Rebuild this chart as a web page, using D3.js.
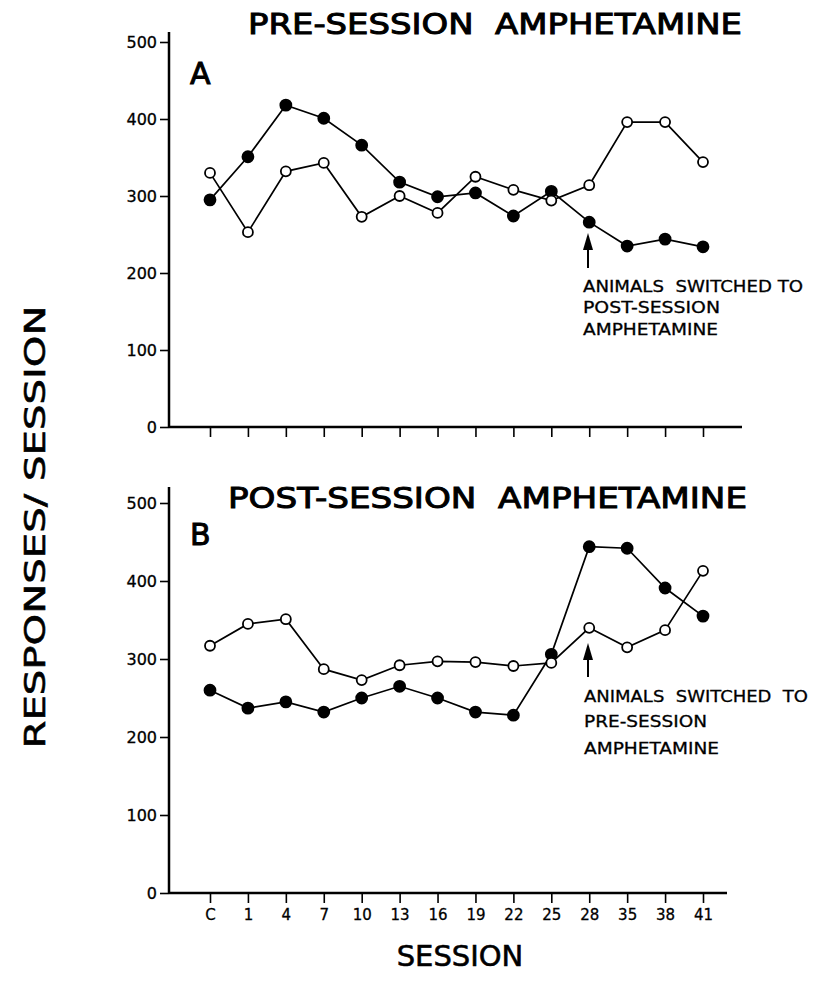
<!DOCTYPE html>
<html>
<head>
<meta charset="utf-8">
<script src="https://cdn.jsdelivr.net/npm/d3@7"></script>
<style>
  body { margin: 0; background: #fff; }
  svg text { font-family: "DejaVu Sans", sans-serif; fill: #000; white-space: pre; }
</style>
</head>
<body>
<div id="chart"></div>
<script>

var sessions = ["C", "1", "4", "7", "10", "13", "16", "19", "22", "25", "28", "35", "38", "41"];
var yTicks = [0, 100, 200, 300, 400, 500];

// panel A: pre-session amphetamine
var preFilled = [295, 351, 418, 401, 366, 318, 299, 304, 274, 306, 266, 235, 244, 234];
var preOpen   = [330, 253, 332, 343, 273, 300, 278, 325, 308, 294, 314, 396, 396, 344];

// panel B: post-session amphetamine
var postFilled = [260, 237, 245, 232, 250, 265, 250, 232, 228, 306, 444, 442, 391, 355];
var postOpen   = [317, 345, 351, 287, 273, 292, 297, 296, 291, 295, 340, 315, 337, 413];

var width = 818,
  height = 996;

var svg = d3.select("#chart")
  .append("svg")
  .attr("width", width)
  .attr("height", height);

var x = d3.scalePoint()
  .domain(sessions)
  .range([210, 703]);

function panelChart() {

  var top = 42,
    bottom = 427,
    axisTop = 32,
    axisRight = 742,
    left = 169,
    title = "",
    letter = "A",
    titleBox = [248, 742, 34],
    letterY = 84,
    series = [],
    showLabels = false,
    note = [],
    noteX = 583,
    noteY = [292, 313, 335],
    arrow = [588, 233, 268];

  function chart(g) {

    var y = d3.scaleLinear()
      .domain([0, 500])
      .range([bottom, top]);

    // axes lines
    g.append("line")
      .attr("x1", left).attr("x2", left)
      .attr("y1", axisTop).attr("y2", bottom)
      .attr("stroke", "#000").attr("stroke-width", 2.5);

    g.append("line")
      .attr("x1", left).attr("x2", axisRight)
      .attr("y1", bottom).attr("y2", bottom)
      .attr("stroke", "#000").attr("stroke-width", 2.5);

    var yAxis = g.append("g")
      .attr("transform", "translate(" + left + ",0)")
      .call(d3.axisLeft(y).tickValues(yTicks).tickSize(9).tickPadding(3));
    yAxis.select(".domain").remove();
    yAxis.selectAll("line").attr("stroke-width", 1.6);
    yAxis.selectAll("text")
      .attr("font-size", "16px")
      .attr("fill", "#000")
      .attr("stroke", "#000")
      .attr("stroke-width", 0.3);

    var xAxis = g.append("g")
      .attr("transform", "translate(0," + bottom + ")")
      .call(d3.axisBottom(x).tickSize(10).tickPadding(6));
    xAxis.select(".domain").remove();
    xAxis.selectAll("line").attr("stroke-width", 1.6);
    xAxis.selectAll("text")
      .attr("font-size", "15px")
      .attr("fill", "#000")
      .attr("stroke", "#000")
      .attr("stroke-width", 0.3)
      .style("display", showLabels ? null : "none");

    // title and panel letter
    g.append("text")
      .attr("x", titleBox[0])
      .attr("y", titleBox[2])
      .attr("font-size", "29px")
      .attr("stroke", "#000")
      .attr("stroke-width", 1)
      .attr("textLength", titleBox[1] - titleBox[0])
      .attr("lengthAdjust", "spacingAndGlyphs")
      .text(title);

    g.append("text")
      .attr("x", 190)
      .attr("y", letterY)
      .attr("font-size", "30px")
      .attr("stroke", "#000")
      .attr("stroke-width", 1)
      .text(letter);

    var line = d3.line()
      .x(function (d, i) { return x(sessions[i]); })
      .y(function (d) { return y(d); });

    series.forEach(function (s) {
      g.append("path")
        .datum(s.values)
        .attr("fill", "none")
        .attr("stroke", "#000")
        .attr("stroke-width", 1.7)
        .attr("d", line);
    });

    series.forEach(function (s) {
      g.selectAll(null)
        .data(s.values)
        .enter()
        .append("circle")
        .attr("cx", function (d, i) { return x(sessions[i]); })
        .attr("cy", function (d) { return y(d); })
        .attr("r", s.filled ? 5.5 : 5)
        .attr("fill", s.filled ? "#000" : "#fff")
        .attr("stroke", "#000")
        .attr("stroke-width", 1.8);
    });

    // arrow and note
    g.append("line")
      .attr("x1", arrow[0]).attr("x2", arrow[0])
      .attr("y1", arrow[1] + 10).attr("y2", arrow[2])
      .attr("stroke", "#000").attr("stroke-width", 2);

    g.append("path")
      .attr("d", "M" + arrow[0] + "," + arrow[1] + "L" + (arrow[0] - 5) + "," + (arrow[1] + 17) +
        "L" + (arrow[0] + 5) + "," + (arrow[1] + 17) + "Z")
      .attr("fill", "#000");

    g.selectAll(null)
      .data(note)
      .enter()
      .append("text")
      .attr("x", noteX)
      .attr("y", function (d, i) { return noteY[i]; })
      .attr("font-size", "16px")
      .attr("stroke", "#000")
      .attr("stroke-width", 0.3)
      .attr("textLength", function (d) { return d.w; })
      .attr("lengthAdjust", "spacingAndGlyphs")
      .text(function (d) { return d.t; });
  }

  chart.top = function (_) { if (!arguments.length) return top; top = _; return chart; };
  chart.bottom = function (_) { if (!arguments.length) return bottom; bottom = _; return chart; };
  chart.axisTop = function (_) { if (!arguments.length) return axisTop; axisTop = _; return chart; };
  chart.axisRight = function (_) { if (!arguments.length) return axisRight; axisRight = _; return chart; };
  chart.title = function (_) { if (!arguments.length) return title; title = _; return chart; };
  chart.titleBox = function (_) { if (!arguments.length) return titleBox; titleBox = _; return chart; };
  chart.letter = function (_) { if (!arguments.length) return letter; letter = _; return chart; };
  chart.letterY = function (_) { if (!arguments.length) return letterY; letterY = _; return chart; };
  chart.series = function (_) { if (!arguments.length) return series; series = _; return chart; };
  chart.showLabels = function (_) { if (!arguments.length) return showLabels; showLabels = _; return chart; };
  chart.note = function (_) { if (!arguments.length) return note; note = _; return chart; };
  chart.noteX = function (_) { if (!arguments.length) return noteX; noteX = _; return chart; };
  chart.noteY = function (_) { if (!arguments.length) return noteY; noteY = _; return chart; };
  chart.arrow = function (_) { if (!arguments.length) return arrow; arrow = _; return chart; };

  return chart;
}

var panelA = panelChart()
  .title("PRE-SESSION  AMPHETAMINE")
  .titleBox([248, 742, 34])
  .letter("A")
  .letterY(84)
  .series([{values: preFilled, filled: true}, {values: preOpen, filled: false}])
  .note([{t: "ANIMALS  SWITCHED TO", w: 220}, {t: "POST-SESSION", w: 137}, {t: "AMPHETAMINE", w: 135}])
  .noteX(583)
  .noteY([292, 313, 335])
  .arrow([588, 233, 268]);

var panelB = panelChart()
  .top(503)
  .bottom(893)
  .axisTop(487)
  .axisRight(727)
  .title("POST-SESSION  AMPHETAMINE")
  .titleBox([228, 747, 508])
  .letter("B")
  .letterY(545)
  .series([{values: postFilled, filled: true}, {values: postOpen, filled: false}])
  .showLabels(true)
  .note([{t: "ANIMALS  SWITCHED  TO", w: 224}, {t: "PRE-SESSION", w: 123}, {t: "AMPHETAMINE", w: 135}])
  .noteX(584)
  .noteY([702, 727, 754])
  .arrow([588, 643, 677]);

svg.append("g").call(panelA);
svg.append("g").call(panelB);

// shared axis titles
svg.append("text")
  .attr("transform", "translate(45,527) rotate(-90)")
  .attr("text-anchor", "middle")
  .attr("font-size", "29px")
  .attr("stroke", "#000")
  .attr("stroke-width", 0.6)
  .attr("textLength", 443)
  .attr("lengthAdjust", "spacingAndGlyphs")
  .text("RESPONSES/ SESSION");

svg.append("text")
  .attr("x", 460)
  .attr("y", 966)
  .attr("text-anchor", "middle")
  .attr("font-size", "29px")
  .attr("stroke", "#000")
  .attr("stroke-width", 0.6)
  .text("SESSION");

</script>
</body>
</html>
